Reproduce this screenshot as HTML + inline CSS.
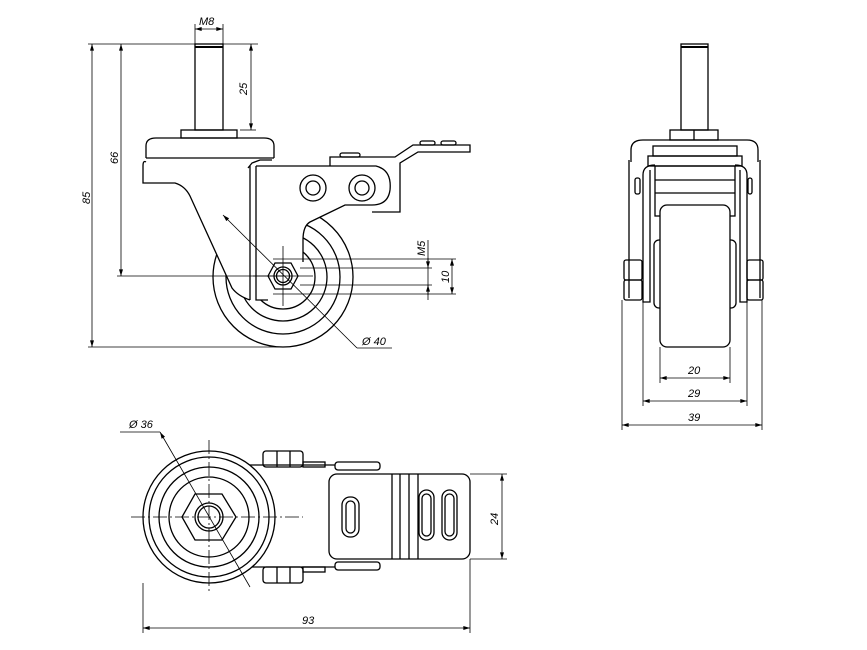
<!DOCTYPE html>
<html><head><meta charset="utf-8"><style>
html,body{margin:0;padding:0;background:#fff}
svg{display:block}
text{font-family:"Liberation Sans",sans-serif;font-style:italic;font-size:11px;fill:#000}
</style></head><body>
<svg width="867" height="650" viewBox="0 0 867 650" xmlns="http://www.w3.org/2000/svg">
<defs>
<marker id="a" viewBox="0 0 10 6" refX="10" refY="3" markerWidth="9" markerHeight="5" orient="auto-start-reverse"><path d="M0,0 L10,3 L0,6 z" fill="#000"/></marker>
</defs>
<g fill="none" stroke="#000" stroke-width="1.3">
<!-- SIDE VIEW: wheel first -->
<circle cx="283" cy="277" r="70"/>
<circle cx="283" cy="277" r="57"/>
<circle cx="283" cy="277" r="44"/>
<circle cx="283" cy="277" r="32"/>
<!-- white cover for housing/bracket -->
<path d="M143,158 L272,158 L376,166 Q392,170 390,190 Q388,205 372,205 L345,205 L310,222 Q303,226 303,240 L303,262 L298,276 L291,289 L275,300 L250,300 Q238,296 232,288 L190,196 Q185,186 175,183 L143,183 Z" fill="#fff" stroke="none"/>
<rect x="195" y="44" width="28" height="86"/>
<line x1="195" y1="47" x2="223" y2="47" stroke-width="2"/>
<rect x="181" y="130" width="56" height="8"/>
<path d="M146,158 L146,146 Q146,138 156,138 L264,138 Q274,138 274,146 L274,158"/>
<path d="M146,158 L274,158"/>
<path d="M146,162 Q143,160 143,166 L143,183 L175,183 Q185,186 190,196 L232,288 Q238,296 250,300"/>
<path d="M248,168 L252,163 L260,160 L272,160"/>
<path d="M250,166 L250,300 M256,166 L256,300 L268,300"/>
<path d="M256,166 L376,166 Q392,170 390,190 Q388,205 372,205 L345,205 L310,222 Q303,226 303,240 L303,262"/>
<path d="M330,166 L330,157 L395,157 L413,145 L470,145 L470,152 L418,152 L400,163 L400,212 L372,212"/>
<rect x="340" y="153" width="20" height="4" rx="2"/>
<rect x="420" y="141" width="15" height="4" rx="2"/><rect x="441" y="141" width="15" height="4" rx="2"/>
<circle cx="313" cy="188" r="13"/><circle cx="313" cy="188" r="7"/>
<circle cx="362" cy="188" r="13"/><circle cx="362" cy="188" r="7"/>
<polygon points="268,276 275,263 291,263 298,276 291,289 275,289" fill="#fff"/>
<circle cx="283" cy="276" r="9"/><circle cx="283" cy="276" r="6.5"/>
<!-- side dims -->
<g stroke-width="0.8">
<line x1="190" y1="44" x2="258" y2="44"/>
<line x1="88" y1="44" x2="190" y2="44"/>
<line x1="88" y1="347" x2="283" y2="347"/>
<line x1="117" y1="276" x2="283" y2="276"/>
<line x1="195" y1="24" x2="195" y2="44"/><line x1="223" y1="24" x2="223" y2="44"/>
<line x1="195" y1="29" x2="223" y2="29" marker-start="url(#a)" marker-end="url(#a)"/>
<line x1="92" y1="44" x2="92" y2="347" marker-start="url(#a)" marker-end="url(#a)"/>
<line x1="121" y1="44" x2="121" y2="276" marker-start="url(#a)" marker-end="url(#a)"/>
<line x1="251" y1="44" x2="251" y2="130" marker-start="url(#a)" marker-end="url(#a)"/>
<line x1="240" y1="130" x2="256" y2="130"/>
<line x1="273" y1="259" x2="456" y2="259"/>
<line x1="300" y1="268" x2="432" y2="268"/>
<line x1="300" y1="285" x2="432" y2="285"/>
<line x1="273" y1="294" x2="456" y2="294"/>
<line x1="428" y1="240" x2="428" y2="300"/>
<line x1="428" y1="258" x2="428" y2="268" marker-end="url(#a)"/>
<line x1="428" y1="295" x2="428" y2="285" marker-end="url(#a)"/>
<line x1="452" y1="259" x2="452" y2="294" marker-start="url(#a)" marker-end="url(#a)"/>
<line x1="223" y1="215" x2="357" y2="348" marker-start="url(#a)"/>
<line x1="283" y1="246" x2="283" y2="306"/><line x1="253" y1="276" x2="313" y2="276"/>
<line x1="357" y1="348" x2="392" y2="348"/>
</g>
<!-- FRONT VIEW -->
<rect x="681" y="44" width="27" height="86"/>
<line x1="681" y1="47" x2="708" y2="47" stroke-width="2"/>
<rect x="670" y="130" width="48" height="10"/><line x1="694" y1="130" x2="694" y2="140"/>
<path d="M631,162 L631,150 Q631,140 643,140 L747,140 Q758,140 758,150 L758,162"/>
<path d="M629,160 L629,298 M760,160 L760,298"/>
<rect x="653" y="146" width="84" height="10"/>
<rect x="648" y="156" width="94" height="10"/>
<rect x="655" y="166" width="80" height="50"/>
<line x1="655" y1="180" x2="735" y2="180"/><line x1="655" y1="193" x2="735" y2="193"/>
<path d="M643,175 L643,302 L650,302 L650,170 M747,175 L747,302 L740,302 L740,170"/>
<path d="M643,175 Q643,165 655,165 M747,175 Q747,165 735,165"/>
<rect x="654" y="240" width="82" height="68" rx="5"/>
<rect x="660" y="205" width="70" height="142" rx="7" fill="#fff"/>
<rect x="624" y="260" width="18" height="20" rx="2"/><rect x="624" y="280" width="18" height="20" rx="2"/>
<rect x="747" y="260" width="16" height="20" rx="2"/><rect x="747" y="280" width="16" height="20" rx="2"/>
<rect x="635" y="178" width="5" height="16" rx="2"/><rect x="748" y="178" width="4" height="16" rx="2"/>
<g stroke-width="0.8">
<line x1="660" y1="347" x2="660" y2="383"/><line x1="730" y1="347" x2="730" y2="383"/>
<line x1="643" y1="302" x2="643" y2="406"/><line x1="747" y1="302" x2="747" y2="406"/>
<line x1="622" y1="300" x2="622" y2="430"/><line x1="762" y1="300" x2="762" y2="430"/>
<line x1="660" y1="378" x2="730" y2="378" marker-start="url(#a)" marker-end="url(#a)"/>
<line x1="643" y1="401" x2="747" y2="401" marker-start="url(#a)" marker-end="url(#a)"/>
<line x1="622" y1="425" x2="762" y2="425" marker-start="url(#a)" marker-end="url(#a)"/>
</g>
<!-- TOP VIEW -->
<path d="M250,465 L335,465 M250,567 L335,567"/>
<circle cx="209" cy="517" r="66" fill="#fff"/>
<circle cx="209" cy="517" r="60"/>
<circle cx="209" cy="517" r="50"/>
<circle cx="209" cy="517" r="40"/>
<polygon points="182,517 195,494 222,494 236,517 222,540 195,540"/>
<circle cx="209" cy="517" r="14"/><circle cx="209" cy="517" r="11"/>
<rect x="263" y="451" width="40" height="16" rx="3"/><line x1="277" y1="451" x2="277" y2="467"/><line x1="290" y1="451" x2="290" y2="467"/>
<rect x="263" y="567" width="40" height="16" rx="3"/><line x1="277" y1="567" x2="277" y2="583"/><line x1="290" y1="567" x2="290" y2="583"/>
<rect x="303" y="462" width="22" height="5"/><rect x="303" y="567" width="22" height="5"/>
<rect x="335" y="462" width="45" height="8" rx="3"/><rect x="335" y="562" width="45" height="8" rx="3"/>
<rect x="329" y="474" width="141" height="85" rx="8" fill="#fff"/>
<line x1="392" y1="474" x2="392" y2="559"/><line x1="400" y1="474" x2="400" y2="559"/>
<line x1="409" y1="474" x2="409" y2="559"/><line x1="418" y1="474" x2="418" y2="559"/>
<rect x="342" y="497" width="17" height="40" rx="8"/><rect x="346" y="501" width="9" height="32" rx="4.5"/>
<rect x="419" y="490" width="15" height="50" rx="7.5"/><rect x="422" y="494" width="9" height="42" rx="4.5"/>
<rect x="442" y="490" width="15" height="50" rx="7.5"/><rect x="445" y="494" width="9" height="42" rx="4.5"/>
<g stroke-width="0.8">
<line x1="131" y1="517" x2="303" y2="517" stroke-dasharray="14,3,2,3"/>
<line x1="209" y1="440" x2="209" y2="594" stroke-dasharray="14,3,2,3"/>
<line x1="120" y1="432" x2="160" y2="432"/>
<line x1="160" y1="432" x2="250" y2="587" marker-start="url(#a)"/>
<line x1="143" y1="583" x2="143" y2="633"/><line x1="470" y1="559" x2="470" y2="633"/>
<line x1="143" y1="628" x2="470" y2="628" marker-start="url(#a)" marker-end="url(#a)"/>
<line x1="470" y1="474" x2="507" y2="474"/><line x1="470" y1="559" x2="507" y2="559"/>
<line x1="502" y1="474" x2="502" y2="559" marker-start="url(#a)" marker-end="url(#a)"/>
</g>
</g>
<!-- labels -->
<text x="199" y="25">M8</text>
<text transform="translate(247,95) rotate(-90)">25</text>
<text transform="translate(118,164) rotate(-90)">66</text>
<text transform="translate(90,204) rotate(-90)">85</text>
<text transform="translate(425,256) rotate(-90)">M5</text>
<text transform="translate(449,283) rotate(-90)">10</text>
<text x="362" y="345">Ø 40</text>
<text x="688" y="374">20</text>
<text x="688" y="397">29</text>
<text x="688" y="421">39</text>
<text x="129" y="428">Ø 36</text>
<text x="302" y="624">93</text>
<text transform="translate(498,525) rotate(-90)">24</text>
</svg>
</body></html>
